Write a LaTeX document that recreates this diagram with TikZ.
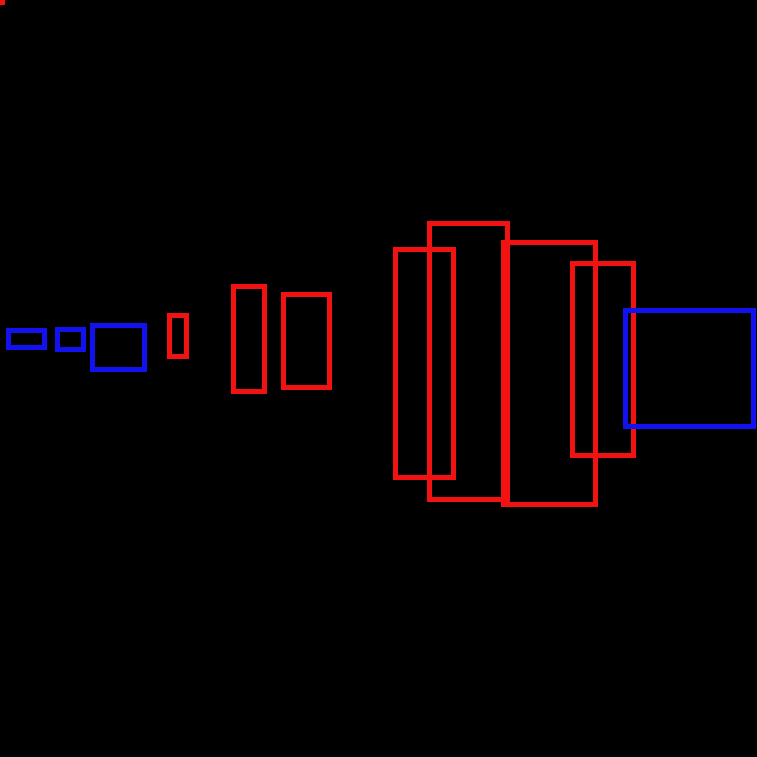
\documentclass[tikz,border=0pt]{standalone}
\usepackage{tikz}
\definecolor{boxred}{HTML}{F21212}
\definecolor{boxblue}{HTML}{1212F0}

\begin{document}
\begin{tikzpicture}[x=0.01cm, y=-0.01cm,
  redbox/.style={draw=boxred, line width=0.056cm},
  bluebox/.style={draw=boxblue, line width=0.056cm}]
  \useasboundingbox (0,0) rectangle (756,757);
  \fill[black] (-10,-10) rectangle (766,767);
  \fill[boxred] (-2,-2) rectangle (5,5);
  % blue boxes on the left
  \draw[bluebox] (8.5,330.5) rectangle (44.5,347.5);
  \draw[bluebox] (57.5,329.5) rectangle (83.5,349.5);
  \draw[bluebox] (92.5,325.5) rectangle (144.5,369.5);
  % red boxes
  \draw[redbox] (169.5,315.5) rectangle (186.5,356.5);
  \draw[redbox] (233.5,286.5) rectangle (264.5,391.5);
  \draw[redbox] (283.5,294.5) rectangle (329.5,387.5);
  \draw[redbox] (395.5,249.5) rectangle (453.5,477.5);
  \draw[redbox] (429.5,223.5) rectangle (507.5,499.5);
  \draw[redbox] (503.5,242.5) rectangle (595.5,504.5);
  \draw[redbox] (572.5,263.5) rectangle (633.5,455.5);
  % blue box on the right
  \draw[bluebox] (625.5,310.5) rectangle (753.5,426.5);
\end{tikzpicture}
\end{document}
